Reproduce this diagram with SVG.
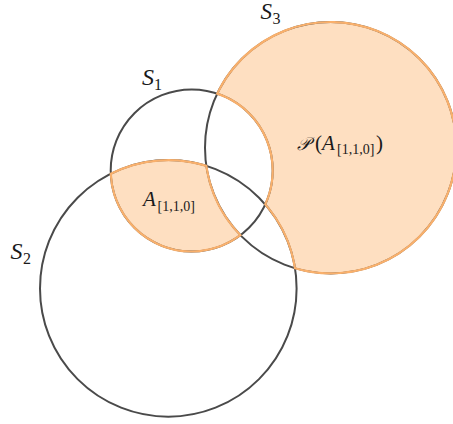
<svg xmlns="http://www.w3.org/2000/svg" width="453" height="424" viewBox="0 0 453 424">
<style>
.fill{fill:#fedfc1;stroke:none}
.edge{fill:none;stroke:#f9b06c;stroke-width:2.2}
.circ{fill:none;stroke:#4a4a4a;stroke-width:2}
.lbl{font-family:"Liberation Serif","DejaVu Serif",serif;fill:#1a1a1a}
.it{font-style:italic}
</style>
<rect width="453" height="424" fill="#ffffff"/>
<g id="regions">
<path id="A110" class="fill" d="M110.77,173.72 A128.3,128.3 0 0 1 206.32,165.86 A125.7,125.7 0 0 0 240.44,235.19 A81,81 0 0 1 110.77,173.72 Z"/>
<path id="PA" class="fill" d="M217.22,93.63 A125.7,125.7 0 1 1 295.00,268.23 A128.3,128.3 0 0 0 265.27,204.39 A81,81 0 0 0 217.22,93.63 Z"/>
</g>
<g id="connectors">
<circle id="c1" class="circ" cx="191.7" cy="170.5" r="81"/>
<circle id="c2" class="circ" cx="168.3" cy="288.4" r="128.3"/>
<circle id="c3" class="circ" cx="330.7" cy="147.7" r="125.7"/>
<path class="edge" d="M110.77,173.72 A128.3,128.3 0 0 1 206.32,165.86 A125.7,125.7 0 0 0 240.44,235.19 A81,81 0 0 1 110.77,173.72 Z"/>
<path class="edge" d="M217.22,93.63 A125.7,125.7 0 1 1 295.00,268.23 A128.3,128.3 0 0 0 265.27,204.39 A81,81 0 0 0 217.22,93.63 Z"/>
</g>
<g id="S1"><text class="lbl" x="142" y="85" font-size="24"><tspan class="it">S</tspan><tspan x="154" y="90" font-size="16">1</tspan></text></g>
<g id="S2"><text class="lbl" x="10.5" y="259" font-size="24"><tspan class="it">S</tspan><tspan x="23" y="264" font-size="16">2</tspan></text></g>
<g id="S3"><text class="lbl" x="260.5" y="19" font-size="23"><tspan class="it">S</tspan><tspan x="272.5" y="23.5" font-size="16">3</tspan></text></g>
<g id="label-A"><text class="lbl" x="143" y="206" font-size="21"><tspan class="it">A</tspan><tspan x="157.5" y="210.5" font-size="14">[1,1,0]</tspan></text></g>
<g id="label-P"><text class="lbl" x="297" y="149.5" font-size="21"><tspan class="it" font-size="18">𝒫</tspan><tspan x="315">(</tspan><tspan x="322" class="it">A</tspan><tspan x="337" y="154" font-size="14">[1,1,0]</tspan><tspan x="376" y="149.5">)</tspan></text></g>
</svg>
